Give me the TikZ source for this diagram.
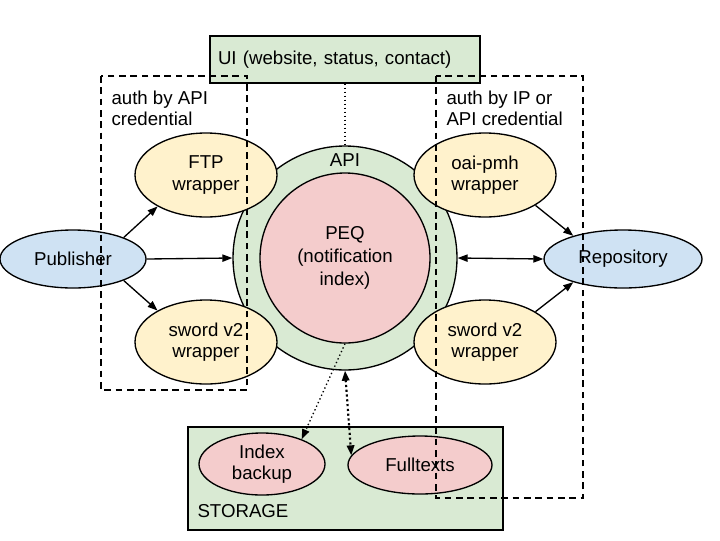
\documentclass[tikz,border=0pt]{standalone}
\usepackage{fontspec}
\setmainfont{Liberation Sans}
\usetikzlibrary{shapes.geometric,arrows.meta}

\definecolor{fillgreen}{RGB}{217,234,211}
\definecolor{fillyellow}{RGB}{255,242,204}
\definecolor{fillblue}{RGB}{207,226,243}
\definecolor{fillpink}{RGB}{244,204,204}

\tikzset{every picture/.style={line width=0.75pt}}
\tikzset{
  blob/.style={ellipse,draw=black,line width=1pt,inner sep=0pt,align=center},
  wrapbox/.style={blob,fill=fillyellow,minimum width=106.5pt,minimum height=63pt},
  endbox/.style={blob,fill=fillblue,minimum height=43.5pt},
  storebox/.style={blob,fill=fillpink},
  greenbox/.style={draw=black,line width=1pt,fill=fillgreen,inner sep=0pt},
  authbox/.style={dashed,line width=1pt,dash pattern=on 5pt off 3.5pt},
  solidarrow/.style={line width=1pt,-{Triangle[length=7.5pt,width=5.5pt]}},
  dotline/.style={line width=1pt,dotted}
}

\begin{document}
\begin{tikzpicture}[x=0.75pt,y=0.75pt,yscale=-1,xscale=1,font=\fontsize{14}{16}\selectfont]
\useasboundingbox (0,0) rectangle (720,540);

%Shape: Circle API
\node [circle,draw=black,line width=1pt,fill=fillgreen,minimum size=168pt,inner sep=0pt] (api) at (345,258) {};
\node [inner sep=0pt] (apilabel) at (345,160) {API};
%Shape: Circle PEQ
\node [circle,draw=black,line width=1pt,fill=fillpink,minimum size=127.5pt,inner sep=0pt,align=center,font=\fontsize{14}{17.5}\selectfont] (peq) at (345,258) {PEQ\\(notification\\index)};

%Shape: Rectangle UI
\node [greenbox,minimum height=35.25pt,text width=190.5pt,inner xsep=6pt,align=left] (ui) at (345,59.5) {UI (website, status, contact)};

%Shape: Rectangle STORAGE
\node [greenbox,minimum width=236.25pt,minimum height=77.25pt] (storage) at (345.5,478.5) {};
\node [anchor=base west,inner sep=0pt] (storagelabel) at (197,517) {STORAGE};
\node [storebox,minimum width=94.5pt,minimum height=46.5pt] (backup) at (262,464) {Index\\backup};
\node [storebox,minimum width=108pt,minimum height=43.5pt] (fulltexts) at (420,465) {Fulltexts};

%Shape: Ellipse ends
\node [endbox,minimum width=109.5pt] (publisher) at (73,259) {Publisher};
\node [endbox,minimum width=118.5pt] (repository) at (623,259) {Repository};

%Shape: Ellipse wrappers
\node [wrapbox] (ftp) at (206,175) {FTP\\wrapper};
\node [wrapbox] (swordin) at (206,342) {sword v2\\wrapper};
\node [wrapbox] (oai) at (485,175) {oai-pmh\\wrapper};
\node [wrapbox] (swordout) at (485,342) {sword v2\\wrapper};

%Dashed boxes
\draw [authbox] (101,76) rectangle (247,390);
\draw [authbox] (436,76) rectangle (583,498);
% Text Node
\node [anchor=north west,inner sep=0pt,align=left] (authapi) at (111,90) {auth by API\\credential};
% Text Node
\node [anchor=north west,inner sep=0pt,align=left] (authip) at (446,90) {auth by IP or\\API credential};

%Straight Lines
\draw [solidarrow] (publisher.23) -- (ftp.213);
\draw [solidarrow] (publisher.east) -- (api.west);
\draw [solidarrow] (publisher.-23) -- (swordin.147);
\draw [line width=1pt,{Triangle[length=7.5pt,width=5.5pt]}-{Triangle[length=7.5pt,width=5.5pt]}] (api.east) -- (repository.west);
\draw [solidarrow] (oai.-31) -- (repository.155);
\draw [solidarrow] (swordout.31) -- (repository.205);

%Dotted Lines
\draw [dotline] (ui.south) -- (api.north);
\draw [dotline,-{Triangle[length=7.5pt,width=5.5pt]}] (peq.south) -- (backup.32);
\draw [line width=1.6pt,dotted,{Triangle[length=7.5pt,width=5.5pt]}-{Triangle[length=7.5pt,width=5.5pt]}] (api.south) -- (fulltexts.172);

\end{tikzpicture}
\end{document}
